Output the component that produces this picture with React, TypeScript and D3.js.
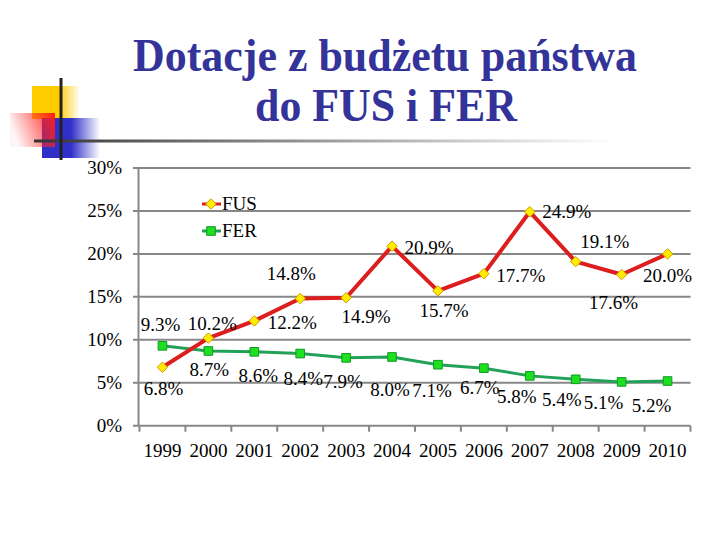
import * as d3 from 'd3'

const years = ['1999', '2000', '2001', '2002', '2003', '2004', '2005', '2006', '2007', '2008', '2009', '2010'];
const fus = [6.8, 10.2, 12.2, 14.8, 14.9, 20.9, 15.7, 17.7, 24.9, 19.1, 17.6, 20.0];
const fer = [9.3, 8.7, 8.6, 8.4, 7.9, 8.0, 7.1, 6.7, 5.8, 5.4, 5.1, 5.2];
const yTicks = [0, 5, 10, 15, 20, 25, 30];

// label nudges (dx, dy) from each point, like the hand-placed labels in the original
const fusLabelOffset: [number, number][] = [
  [1, 21], [4, -15], [38, 2], [-9, -25], [20, 19], [37, 1],
  [6, 20], [37, 2], [37, 0], [29, -20], [-8, 28], [0, 22],
];
const ferLabelOffset: [number, number][] = [
  [-2, -21], [1, 19], [4, 24], [3, 25], [-3, 24], [-2, 33],
  [-6, 26], [-4, 19], [-13, 21], [-14, 20], [-18, 21], [-16, 25],
];

const W = 720;
const H = 540;
const left = 139.5;
const right = 690.5;
const top = 168;
const bottom = 425.7;

const FUS_LINE = '#dc1e1e';
const FUS_FILL = '#ffec00';
const FUS_STROKE = '#d49a00';
const FER_LINE = '#22a257';
const FER_FILL = '#1ee01e';
const FER_STROKE = '#12972a';
const GRID = '#878787';
const TITLE = '#333399';
const serif = { fontFamily: "'Liberation Serif'" };

const fmt = (v: number) => `${v.toFixed(1)}%`;

const App = () => {
  const x = d3.scaleBand<string>().domain(years).range([left, right]).padding(0);
  const y = d3.scaleLinear().domain([0, 30]).range([bottom, top]);
  const cx = (d: string) => (x(d) || 0) + x.bandwidth() / 2;

  const line = d3.line<number>()
    .x((_, i) => cx(years[i]))
    .y(d => y(d));

  const diamond = d3.symbol().type(d3.symbolDiamond2).size(70)();
  const square = d3.symbol().type(d3.symbolSquare2).size(95)();

  const boundaries = d3.range(years.length + 1).map(i => left + i * x.bandwidth());

  return (
    <svg width={W} height={H} viewBox={`0 0 ${W} ${H}`}
      style={{ position: 'absolute', left: 0, top: 0, background: '#fff' }}>
      <defs>
        <linearGradient id="yel" x1="0" x2="1" y1="0" y2="0">
          <stop offset="0" stopColor="#ffcc00" />
          <stop offset="0.55" stopColor="#ffcc00" />
          <stop offset="1" stopColor="#ffcc00" stopOpacity="0" />
        </linearGradient>
        <linearGradient id="blu" x1="0" x2="1" y1="0" y2="0">
          <stop offset="0" stopColor="#3030c8" />
          <stop offset="0.5" stopColor="#3030c8" />
          <stop offset="1" stopColor="#3030c8" stopOpacity="0" />
        </linearGradient>
        <linearGradient id="red" x1="0" x2="1" y1="0.3" y2="0">
          <stop offset="0" stopColor="#ff3030" stopOpacity="0.05" />
          <stop offset="1" stopColor="#ff1a1a" />
        </linearGradient>
        <linearGradient id="bar" x1="0" x2="1" y1="0" y2="0">
          <stop offset="0" stopColor="#333" />
          <stop offset="0.15" stopColor="#555" />
          <stop offset="1" stopColor="#fff" />
        </linearGradient>
      </defs>

      {/* decoration */}
      <rect x={32} y={86} width={48} height={33} fill="url(#yel)" />
      <rect x={42} y={118} width={58} height={40} fill="url(#blu)" />
      <rect x={10} y={113} width={45} height={34} fill="url(#red)" />
      <rect x={34} y={139.5} width={580} height={3} fill="url(#bar)" />
      <line x1={61} x2={61} y1={78} y2={160} stroke="#222" strokeWidth={3} />

      {/* title */}
      <text style={serif} fontWeight="bold" fill={TITLE} fontSize={46} textAnchor="middle"
        x={385} y={71} textLength={504} lengthAdjust="spacingAndGlyphs">Dotacje z budżetu państwa</text>
      <text style={serif} fontWeight="bold" fill={TITLE} fontSize={46} textAnchor="middle"
        x={386} y={121} textLength={262} lengthAdjust="spacingAndGlyphs">do FUS i FER</text>

      {/* grid and axes */}
      <g stroke={GRID} strokeWidth={2}>
        {yTicks.map(t => (
          <line key={t} x1={133} x2={right} y1={y(t)} y2={y(t)} />
        ))}
        <line x1={left - 1} x2={left - 1} y1={top} y2={bottom} />
        {boundaries.map((b, i) => (
          <line key={i} x1={b} x2={b} y1={bottom} y2={bottom + 6} />
        ))}
      </g>
      {yTicks.map(t => (
        <text key={t} style={serif} fontSize={19} x={122} y={y(t)} dy="0.34em" textAnchor="end">{t}%</text>
      ))}
      {years.map(d => (
        <text key={d} style={serif} fontSize={19} x={cx(d)} y={457} textAnchor="middle">{d}</text>
      ))}

      {/* series */}
      <path d={line(fer) || ''} fill="none" stroke={FER_LINE} strokeWidth={3} />
      <path d={line(fus) || ''} fill="none" stroke={FUS_LINE} strokeWidth={4} strokeLinejoin="round" />
      {fer.map((v, i) => (
        <path key={i} d={square || ''} transform={`translate(${cx(years[i])},${y(v)})`}
          fill={FER_FILL} stroke={FER_STROKE} strokeWidth={1} />
      ))}
      {fus.map((v, i) => (
        <path key={i} d={diamond || ''} transform={`translate(${cx(years[i])},${y(v)})`}
          fill={FUS_FILL} stroke={FUS_STROKE} strokeWidth={1} />
      ))}

      {/* data labels */}
      {fus.map((v, i) => (
        <text key={'f' + i} style={serif} fontSize={19} textAnchor="middle"
          x={cx(years[i]) + fusLabelOffset[i][0]} y={y(v) + fusLabelOffset[i][1]} dy="0.34em">{fmt(v)}</text>
      ))}
      {fer.map((v, i) => (
        <text key={'r' + i} style={serif} fontSize={19} textAnchor="middle"
          x={cx(years[i]) + ferLabelOffset[i][0]} y={y(v) + ferLabelOffset[i][1]} dy="0.34em">{fmt(v)}</text>
      ))}

      {/* legend */}
      <line x1={202} x2={221} y1={204} y2={204} stroke={FUS_LINE} strokeWidth={3} />
      <path d={diamond || ''} transform="translate(211,204)" fill={FUS_FILL} stroke={FUS_STROKE} strokeWidth={1} />
      <text style={serif} fontSize={19} x={222} y={204} dy="0.34em">FUS</text>
      <line x1={202} x2={221} y1={231} y2={231} stroke={FER_LINE} strokeWidth={3} />
      <path d={square || ''} transform="translate(211,231)" fill={FER_FILL} stroke={FER_STROKE} strokeWidth={1} />
      <text style={serif} fontSize={19} x={222} y={231} dy="0.34em">FER</text>
    </svg>
  )
}

export default App
